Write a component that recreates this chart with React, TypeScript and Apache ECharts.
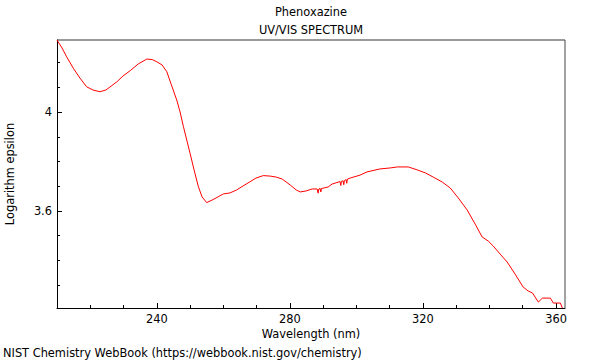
import React, { useEffect, useRef } from "react";
import * as echarts from "echarts";

const wavelengths = [
  210.0, 211.5, 212.9, 214.9, 216.9, 218.9, 220.8, 222.9, 224.7, 228.0, 229.8, 232.0, 234.4, 237.0, 238.6,
  240.0, 241.6, 243.0, 244.3, 246.0, 247.0, 248.0, 249.0, 250.0, 251.2, 252.5, 253.6, 255.0, 256.6, 258.4,
  260.0, 262.0, 264.0, 265.9, 268.0, 269.8, 272.0, 274.1, 275.9, 277.7, 280.1, 281.9, 283.1, 284.9, 286.7,
  288.2, 288.5, 288.7, 289.1, 289.3, 289.5, 290.3, 291.5, 292.7, 295.1, 295.3, 295.5, 296.0, 296.2, 296.4,
  296.9, 297.1, 297.3, 298.1, 301.1, 303.2, 307.1, 310.2, 312.3, 315.6, 318.3, 320.7, 323.1, 325.8, 328.2,
  330.6, 333.3, 335.7, 337.8, 339.6, 341.1, 343.2, 345.3, 347.7, 350.1, 351.6, 352.9, 354.7, 355.9, 358.3,
  359.2, 361.3, 361.9,
];

const logEpsilon = [
  4.291, 4.259, 4.223, 4.177, 4.137, 4.102, 4.089, 4.082, 4.089, 4.122, 4.145, 4.167, 4.194, 4.214, 4.212,
  4.203, 4.19, 4.163, 4.113, 4.048, 4.0, 3.941, 3.887, 3.833, 3.766, 3.698, 3.657, 3.634, 3.644, 3.657,
  3.669, 3.673, 3.685, 3.701, 3.718, 3.733, 3.743, 3.741, 3.737, 3.729, 3.705, 3.685, 3.677, 3.681, 3.689,
  3.689, 3.672, 3.689, 3.691, 3.677, 3.691, 3.693, 3.697, 3.709, 3.719, 3.703, 3.72, 3.722, 3.706, 3.723,
  3.727, 3.712, 3.729, 3.733, 3.745, 3.758, 3.77, 3.774, 3.778, 3.778, 3.766, 3.754, 3.737, 3.717, 3.693,
  3.653, 3.604, 3.547, 3.495, 3.479, 3.459, 3.426, 3.394, 3.345, 3.293, 3.277, 3.269, 3.232, 3.248, 3.248,
  3.228, 3.228, 3.208,
];

const xMajorTicks = [240, 280, 320, 360];
const xMinorTicks = [220, 230, 250, 260, 270, 290, 300, 310, 330, 340, 350];
const yMajorTicks = [3.6, 4];
const yMinorTicks = [3.3, 3.4, 3.5, 3.7, 3.8, 3.9, 4.1, 4.2];

const titleText = "Phenoxazine";
const subtitleText = "UV/VIS SPECTRUM";
const xName = "Wavelength (nm)";
const yName = "Logarithm epsilon";
const footer = "NIST Chemistry WebBook (https://webbook.nist.gov/chemistry)";

const FONT = "DejaVu Sans";
const FS = 11.4;

export default function App() {
  const ref = useRef<HTMLDivElement>(null);
  useEffect(() => {
    if (!ref.current) return;
    const chart = echarts.init(ref.current, null, { renderer: "svg" });
    const xMin = 210;
    const xMax = 362.7;
    const yMin = 3.208;
    const yMax = 4.291;
    const L = 57, T = 40, R = 565, B = 308;
    const data = wavelengths.map((w, i) => [w, logEpsilon[i]]);
    chart.setOption({
      animation: false,
      textStyle: { fontFamily: FONT },
      grid: { left: L, top: T, right: 600 - R, bottom: 360 - B, containLabel: false, outerBoundsMode: "none" },
      xAxis: [
        {
          type: "value",
          min: xMin,
          max: xMax,
          name: xName,
          nameLocation: "middle",
          nameGap: 16,
          nameTextStyle: { fontFamily: FONT, fontSize: FS, color: "#000" },
          axisLine: { show: true, onZero: false, lineStyle: { color: "#000", width: 1 } },
          axisTick: { show: true, inside: true, length: 5, customValues: xMajorTicks, lineStyle: { color: "#000" } },
          axisLabel: { customValues: xMajorTicks, fontFamily: FONT, fontSize: FS, color: "#000", margin: 5 },
          splitLine: { show: false },
        },
        {
          type: "value",
          min: xMin,
          max: xMax,
          position: "bottom",
          axisLine: { show: false },
          axisTick: { show: true, inside: true, length: 3, customValues: xMinorTicks, lineStyle: { color: "#000" } },
          axisLabel: { show: false },
          splitLine: { show: false },
        },
      ],
      yAxis: [
        {
          type: "value",
          min: yMin,
          max: yMax,
          name: yName,
          nameLocation: "middle",
          nameGap: 42,
          nameRotate: 90,
          nameTextStyle: { fontFamily: FONT, fontSize: FS, color: "#000" },
          axisLine: { show: true, onZero: false, lineStyle: { color: "#000", width: 1 } },
          axisTick: { show: true, inside: true, length: 5, customValues: yMajorTicks, lineStyle: { color: "#000" } },
          axisLabel: {
            customValues: yMajorTicks,
            fontFamily: FONT,
            fontSize: FS,
            color: "#000",
            margin: 5,
            formatter: (v: number) => String(Math.round(v * 10) / 10),
          },
          splitLine: { show: false },
        },
        {
          type: "value",
          min: yMin,
          max: yMax,
          position: "left",
          axisLine: { show: false },
          axisTick: { show: true, inside: true, length: 3, customValues: yMinorTicks, lineStyle: { color: "#000" } },
          axisLabel: { show: false },
          splitLine: { show: false },
        },
      ],
      series: [
        {
          type: "line",
          xAxisIndex: 0,
          yAxisIndex: 0,
          data,
          showSymbol: false,
          symbol: "none",
          lineStyle: { color: "#ff0000", width: 1 },
          clip: true,
        },
      ],
      graphic: [
        { type: "line", shape: { x1: L, y1: T, x2: R, y2: T }, style: { stroke: "#9a9a9a", lineWidth: 2 }, silent: true },
        { type: "line", shape: { x1: R, y1: T, x2: R, y2: B }, style: { stroke: "#444", lineWidth: 1 }, silent: true },
        {
          type: "text",
          x: (L + R) / 2,
          y: 12,
          style: { text: titleText, font: `${FS}px "${FONT}"`, fill: "#000", textAlign: "center", textVerticalAlign: "middle" },
        },
        {
          type: "text",
          x: (L + R) / 2,
          y: 30,
          style: { text: subtitleText, font: `${FS}px "${FONT}"`, fill: "#000", textAlign: "center", textVerticalAlign: "middle" },
        },
        {
          type: "text",
          x: 3,
          y: 353,
          style: { text: footer, font: `${FS}px "${FONT}"`, fill: "#000", textAlign: "left", textVerticalAlign: "middle" },
        },
      ],
    });
    return () => chart.dispose();
  }, []);
  return <div ref={ref} style={{ position: "absolute", left: 0, top: 0, width: 600, height: 360 }} />;
}
